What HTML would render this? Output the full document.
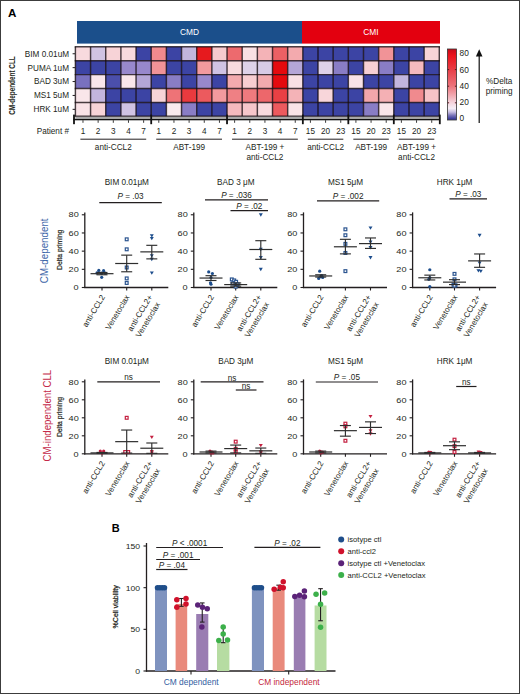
<!DOCTYPE html>
<html><head><meta charset="utf-8"><style>
html,body{margin:0;padding:0;background:#fff;}
body{width:520px;height:694px;overflow:hidden;}
svg{display:block;}
text{font-family:"Liberation Sans",sans-serif;}
</style></head><body>
<svg width="520" height="694" viewBox="0 0 520 694">
<rect x="0" y="0" width="520" height="694" fill="#fff"/>
<text x="8.10" y="17.20" font-size="11.6" text-anchor="start" fill="#000" font-weight="bold">A</text>
<rect x="77.00" y="21.00" width="225.00" height="22.60" fill="#1b4f8b"/>
<rect x="302.00" y="21.00" width="138.00" height="22.60" fill="#e3000f"/>
<text x="189.50" y="35.20" font-size="8.4" text-anchor="middle" fill="#fff">CMD</text>
<text x="371.00" y="35.20" font-size="8.4" text-anchor="middle" fill="#fff">CMI</text>
<rect x="75.40" y="46.80" width="15.16" height="13.90" fill="#f8dade"/>
<rect x="90.56" y="46.80" width="15.16" height="13.90" fill="#d0c3e3"/>
<rect x="105.73" y="46.80" width="15.16" height="13.90" fill="#f7d3d7"/>
<rect x="120.89" y="46.80" width="15.16" height="13.90" fill="#f8dade"/>
<rect x="136.05" y="46.80" width="15.16" height="13.90" fill="#3c44a4"/>
<rect x="151.21" y="46.80" width="15.16" height="13.90" fill="#f08a8e"/>
<rect x="166.38" y="46.80" width="15.16" height="13.90" fill="#3c44a4"/>
<rect x="181.54" y="46.80" width="15.16" height="13.90" fill="#c2b5dd"/>
<rect x="196.70" y="46.80" width="15.16" height="13.90" fill="#e61a1e"/>
<rect x="211.86" y="46.80" width="15.16" height="13.90" fill="#f6cace"/>
<rect x="227.03" y="46.80" width="15.16" height="13.90" fill="#ed6a6e"/>
<rect x="242.19" y="46.80" width="15.16" height="13.90" fill="#f8e0e4"/>
<rect x="257.35" y="46.80" width="15.16" height="13.90" fill="#f4b3b7"/>
<rect x="272.51" y="46.80" width="15.16" height="13.90" fill="#ec6064"/>
<rect x="287.68" y="46.80" width="15.16" height="13.90" fill="#f3aaae"/>
<rect x="302.84" y="46.80" width="15.16" height="13.90" fill="#3c44a4"/>
<rect x="318.00" y="46.80" width="15.16" height="13.90" fill="#3c44a4"/>
<rect x="333.16" y="46.80" width="15.16" height="13.90" fill="#3c44a4"/>
<rect x="348.33" y="46.80" width="15.16" height="13.90" fill="#3c44a4"/>
<rect x="363.49" y="46.80" width="15.16" height="13.90" fill="#3c44a4"/>
<rect x="378.65" y="46.80" width="15.16" height="13.90" fill="#f19397"/>
<rect x="393.81" y="46.80" width="15.16" height="13.90" fill="#3c44a4"/>
<rect x="408.98" y="46.80" width="15.16" height="13.90" fill="#3c44a4"/>
<rect x="424.14" y="46.80" width="15.16" height="13.90" fill="#f7d3d7"/>
<rect x="75.40" y="60.70" width="15.16" height="13.90" fill="#3c44a4"/>
<rect x="90.56" y="60.70" width="15.16" height="13.90" fill="#3c44a4"/>
<rect x="105.73" y="60.70" width="15.16" height="13.90" fill="#3c44a4"/>
<rect x="120.89" y="60.70" width="15.16" height="13.90" fill="#9888cc"/>
<rect x="136.05" y="60.70" width="15.16" height="13.90" fill="#9888cc"/>
<rect x="151.21" y="60.70" width="15.16" height="13.90" fill="#f19397"/>
<rect x="166.38" y="60.70" width="15.16" height="13.90" fill="#3c44a4"/>
<rect x="181.54" y="60.70" width="15.16" height="13.90" fill="#3c44a4"/>
<rect x="196.70" y="60.70" width="15.16" height="13.90" fill="#f29a9e"/>
<rect x="211.86" y="60.70" width="15.16" height="13.90" fill="#d0c3e3"/>
<rect x="227.03" y="60.70" width="15.16" height="13.90" fill="#f8dade"/>
<rect x="242.19" y="60.70" width="15.16" height="13.90" fill="#ded2e9"/>
<rect x="257.35" y="60.70" width="15.16" height="13.90" fill="#d7cbe6"/>
<rect x="272.51" y="60.70" width="15.16" height="13.90" fill="#e40a0e"/>
<rect x="287.68" y="60.70" width="15.16" height="13.90" fill="#b4a6d7"/>
<rect x="302.84" y="60.70" width="15.16" height="13.90" fill="#3c44a4"/>
<rect x="318.00" y="60.70" width="15.16" height="13.90" fill="#ded2e9"/>
<rect x="333.16" y="60.70" width="15.16" height="13.90" fill="#897dc5"/>
<rect x="348.33" y="60.70" width="15.16" height="13.90" fill="#3c44a4"/>
<rect x="363.49" y="60.70" width="15.16" height="13.90" fill="#f7d0d4"/>
<rect x="378.65" y="60.70" width="15.16" height="13.90" fill="#897dc5"/>
<rect x="393.81" y="60.70" width="15.16" height="13.90" fill="#3c44a4"/>
<rect x="408.98" y="60.70" width="15.16" height="13.90" fill="#f5babe"/>
<rect x="424.14" y="60.70" width="15.16" height="13.90" fill="#3c44a4"/>
<rect x="75.40" y="74.60" width="15.16" height="13.90" fill="#7971bf"/>
<rect x="90.56" y="74.60" width="15.16" height="13.90" fill="#f9e6ea"/>
<rect x="105.73" y="74.60" width="15.16" height="13.90" fill="#4b4fab"/>
<rect x="120.89" y="74.60" width="15.16" height="13.90" fill="#f9e6ea"/>
<rect x="136.05" y="74.60" width="15.16" height="13.90" fill="#b4a6d7"/>
<rect x="151.21" y="74.60" width="15.16" height="13.90" fill="#3c44a4"/>
<rect x="166.38" y="74.60" width="15.16" height="13.90" fill="#897dc5"/>
<rect x="181.54" y="74.60" width="15.16" height="13.90" fill="#3c44a4"/>
<rect x="196.70" y="74.60" width="15.16" height="13.90" fill="#9888cc"/>
<rect x="211.86" y="74.60" width="15.16" height="13.90" fill="#3c44a4"/>
<rect x="227.03" y="74.60" width="15.16" height="13.90" fill="#f3aaae"/>
<rect x="242.19" y="74.60" width="15.16" height="13.90" fill="#f7cdd1"/>
<rect x="257.35" y="74.60" width="15.16" height="13.90" fill="#f3aaae"/>
<rect x="272.51" y="74.60" width="15.16" height="13.90" fill="#e40a0e"/>
<rect x="287.68" y="74.60" width="15.16" height="13.90" fill="#f8e0e4"/>
<rect x="302.84" y="74.60" width="15.16" height="13.90" fill="#3c44a4"/>
<rect x="318.00" y="74.60" width="15.16" height="13.90" fill="#3c44a4"/>
<rect x="333.16" y="74.60" width="15.16" height="13.90" fill="#3c44a4"/>
<rect x="348.33" y="74.60" width="15.16" height="13.90" fill="#f9e3e7"/>
<rect x="363.49" y="74.60" width="15.16" height="13.90" fill="#3c44a4"/>
<rect x="378.65" y="74.60" width="15.16" height="13.90" fill="#3c44a4"/>
<rect x="393.81" y="74.60" width="15.16" height="13.90" fill="#c2b5dd"/>
<rect x="408.98" y="74.60" width="15.16" height="13.90" fill="#3c44a4"/>
<rect x="424.14" y="74.60" width="15.16" height="13.90" fill="#3c44a4"/>
<rect x="75.40" y="88.50" width="15.16" height="13.90" fill="#f9e6ea"/>
<rect x="90.56" y="88.50" width="15.16" height="13.90" fill="#c2b5dd"/>
<rect x="105.73" y="88.50" width="15.16" height="13.90" fill="#3c44a4"/>
<rect x="120.89" y="88.50" width="15.16" height="13.90" fill="#3c44a4"/>
<rect x="136.05" y="88.50" width="15.16" height="13.90" fill="#3c44a4"/>
<rect x="151.21" y="88.50" width="15.16" height="13.90" fill="#f7d3d7"/>
<rect x="166.38" y="88.50" width="15.16" height="13.90" fill="#ee7377"/>
<rect x="181.54" y="88.50" width="15.16" height="13.90" fill="#e93a3e"/>
<rect x="196.70" y="88.50" width="15.16" height="13.90" fill="#ec5a5e"/>
<rect x="211.86" y="88.50" width="15.16" height="13.90" fill="#f29a9e"/>
<rect x="227.03" y="88.50" width="15.16" height="13.90" fill="#ef8084"/>
<rect x="242.19" y="88.50" width="15.16" height="13.90" fill="#ef7a7e"/>
<rect x="257.35" y="88.50" width="15.16" height="13.90" fill="#ed676b"/>
<rect x="272.51" y="88.50" width="15.16" height="13.90" fill="#e94044"/>
<rect x="287.68" y="88.50" width="15.16" height="13.90" fill="#f4b3b7"/>
<rect x="302.84" y="88.50" width="15.16" height="13.90" fill="#3c44a4"/>
<rect x="318.00" y="88.50" width="15.16" height="13.90" fill="#f8d6da"/>
<rect x="333.16" y="88.50" width="15.16" height="13.90" fill="#3c44a4"/>
<rect x="348.33" y="88.50" width="15.16" height="13.90" fill="#3c44a4"/>
<rect x="363.49" y="88.50" width="15.16" height="13.90" fill="#f3a7ab"/>
<rect x="378.65" y="88.50" width="15.16" height="13.90" fill="#f4b0b4"/>
<rect x="393.81" y="88.50" width="15.16" height="13.90" fill="#3c44a4"/>
<rect x="408.98" y="88.50" width="15.16" height="13.90" fill="#f08a8e"/>
<rect x="424.14" y="88.50" width="15.16" height="13.90" fill="#f6c3c7"/>
<rect x="75.40" y="102.40" width="15.16" height="13.90" fill="#f9e3e7"/>
<rect x="90.56" y="102.40" width="15.16" height="13.90" fill="#f7d3d7"/>
<rect x="105.73" y="102.40" width="15.16" height="13.90" fill="#3c44a4"/>
<rect x="120.89" y="102.40" width="15.16" height="13.90" fill="#d0c3e3"/>
<rect x="136.05" y="102.40" width="15.16" height="13.90" fill="#3c44a4"/>
<rect x="151.21" y="102.40" width="15.16" height="13.90" fill="#3c44a4"/>
<rect x="166.38" y="102.40" width="15.16" height="13.90" fill="#f9eaee"/>
<rect x="181.54" y="102.40" width="15.16" height="13.90" fill="#897dc5"/>
<rect x="196.70" y="102.40" width="15.16" height="13.90" fill="#3c44a4"/>
<rect x="211.86" y="102.40" width="15.16" height="13.90" fill="#3c44a4"/>
<rect x="227.03" y="102.40" width="15.16" height="13.90" fill="#f5babe"/>
<rect x="242.19" y="102.40" width="15.16" height="13.90" fill="#f6c6ca"/>
<rect x="257.35" y="102.40" width="15.16" height="13.90" fill="#f8dade"/>
<rect x="272.51" y="102.40" width="15.16" height="13.90" fill="#ec5a5e"/>
<rect x="287.68" y="102.40" width="15.16" height="13.90" fill="#f9e3e7"/>
<rect x="302.84" y="102.40" width="15.16" height="13.90" fill="#3c44a4"/>
<rect x="318.00" y="102.40" width="15.16" height="13.90" fill="#3c44a4"/>
<rect x="333.16" y="102.40" width="15.16" height="13.90" fill="#3c44a4"/>
<rect x="348.33" y="102.40" width="15.16" height="13.90" fill="#3c44a4"/>
<rect x="363.49" y="102.40" width="15.16" height="13.90" fill="#897dc5"/>
<rect x="378.65" y="102.40" width="15.16" height="13.90" fill="#f9e6ea"/>
<rect x="393.81" y="102.40" width="15.16" height="13.90" fill="#3c44a4"/>
<rect x="408.98" y="102.40" width="15.16" height="13.90" fill="#3c44a4"/>
<rect x="424.14" y="102.40" width="15.16" height="13.90" fill="#3c44a4"/>
<g stroke="#140a10" stroke-opacity="0.78" stroke-width="1.45">
<line x1="74.70" y1="46.80" x2="440.00" y2="46.80"/>
<line x1="74.70" y1="60.70" x2="440.00" y2="60.70"/>
<line x1="74.70" y1="74.60" x2="440.00" y2="74.60"/>
<line x1="74.70" y1="88.50" x2="440.00" y2="88.50"/>
<line x1="74.70" y1="102.40" x2="440.00" y2="102.40"/>
<line x1="74.70" y1="116.30" x2="440.00" y2="116.30"/>
<line x1="75.40" y1="46.80" x2="75.40" y2="116.30"/>
<line x1="90.56" y1="46.80" x2="90.56" y2="116.30"/>
<line x1="105.73" y1="46.80" x2="105.73" y2="116.30"/>
<line x1="120.89" y1="46.80" x2="120.89" y2="116.30"/>
<line x1="136.05" y1="46.80" x2="136.05" y2="116.30"/>
<line x1="151.21" y1="46.80" x2="151.21" y2="116.30"/>
<line x1="166.38" y1="46.80" x2="166.38" y2="116.30"/>
<line x1="181.54" y1="46.80" x2="181.54" y2="116.30"/>
<line x1="196.70" y1="46.80" x2="196.70" y2="116.30"/>
<line x1="211.86" y1="46.80" x2="211.86" y2="116.30"/>
<line x1="227.03" y1="46.80" x2="227.03" y2="116.30"/>
<line x1="242.19" y1="46.80" x2="242.19" y2="116.30"/>
<line x1="257.35" y1="46.80" x2="257.35" y2="116.30"/>
<line x1="272.51" y1="46.80" x2="272.51" y2="116.30"/>
<line x1="287.68" y1="46.80" x2="287.68" y2="116.30"/>
<line x1="302.84" y1="46.80" x2="302.84" y2="116.30"/>
<line x1="318.00" y1="46.80" x2="318.00" y2="116.30"/>
<line x1="333.16" y1="46.80" x2="333.16" y2="116.30"/>
<line x1="348.33" y1="46.80" x2="348.33" y2="116.30"/>
<line x1="363.49" y1="46.80" x2="363.49" y2="116.30"/>
<line x1="378.65" y1="46.80" x2="378.65" y2="116.30"/>
<line x1="393.81" y1="46.80" x2="393.81" y2="116.30"/>
<line x1="408.98" y1="46.80" x2="408.98" y2="116.30"/>
<line x1="424.14" y1="46.80" x2="424.14" y2="116.30"/>
<line x1="439.30" y1="46.80" x2="439.30" y2="116.30"/>
</g>
<text x="69.00" y="56.65" font-size="8.2" text-anchor="end" fill="#231f20">BIM 0.01uM</text>
<line x1="72.60" y1="53.75" x2="75.00" y2="53.75" stroke="#231f20" stroke-width="1"/>
<text x="69.00" y="70.55" font-size="8.2" text-anchor="end" fill="#231f20">PUMA 1uM</text>
<line x1="72.60" y1="67.65" x2="75.00" y2="67.65" stroke="#231f20" stroke-width="1"/>
<text x="69.00" y="84.45" font-size="8.2" text-anchor="end" fill="#231f20">BAD 3uM</text>
<line x1="72.60" y1="81.55" x2="75.00" y2="81.55" stroke="#231f20" stroke-width="1"/>
<text x="69.00" y="98.35" font-size="8.2" text-anchor="end" fill="#231f20">MS1 5uM</text>
<line x1="72.60" y1="95.45" x2="75.00" y2="95.45" stroke="#231f20" stroke-width="1"/>
<text x="69.00" y="112.25" font-size="8.2" text-anchor="end" fill="#231f20">HRK 1uM</text>
<line x1="72.60" y1="109.35" x2="75.00" y2="109.35" stroke="#231f20" stroke-width="1"/>
<rect x="75.40" y="116.80" width="363.90" height="1.80" fill="#a8a8a8"/>
<rect x="73.40" y="118.80" width="366.40" height="1.50" fill="#111"/>
<line x1="82.98" y1="120.20" x2="82.98" y2="122.80" stroke="#222" stroke-width="0.9"/>
<line x1="98.14" y1="120.20" x2="98.14" y2="122.80" stroke="#222" stroke-width="0.9"/>
<line x1="113.31" y1="120.20" x2="113.31" y2="122.80" stroke="#222" stroke-width="0.9"/>
<line x1="128.47" y1="120.20" x2="128.47" y2="122.80" stroke="#222" stroke-width="0.9"/>
<line x1="143.63" y1="120.20" x2="143.63" y2="122.80" stroke="#222" stroke-width="0.9"/>
<line x1="158.79" y1="120.20" x2="158.79" y2="122.80" stroke="#222" stroke-width="0.9"/>
<line x1="173.96" y1="120.20" x2="173.96" y2="122.80" stroke="#222" stroke-width="0.9"/>
<line x1="189.12" y1="120.20" x2="189.12" y2="122.80" stroke="#222" stroke-width="0.9"/>
<line x1="204.28" y1="120.20" x2="204.28" y2="122.80" stroke="#222" stroke-width="0.9"/>
<line x1="219.44" y1="120.20" x2="219.44" y2="122.80" stroke="#222" stroke-width="0.9"/>
<line x1="234.61" y1="120.20" x2="234.61" y2="122.80" stroke="#222" stroke-width="0.9"/>
<line x1="249.77" y1="120.20" x2="249.77" y2="122.80" stroke="#222" stroke-width="0.9"/>
<line x1="264.93" y1="120.20" x2="264.93" y2="122.80" stroke="#222" stroke-width="0.9"/>
<line x1="280.09" y1="120.20" x2="280.09" y2="122.80" stroke="#222" stroke-width="0.9"/>
<line x1="295.26" y1="120.20" x2="295.26" y2="122.80" stroke="#222" stroke-width="0.9"/>
<line x1="310.42" y1="120.20" x2="310.42" y2="122.80" stroke="#222" stroke-width="0.9"/>
<line x1="325.58" y1="120.20" x2="325.58" y2="122.80" stroke="#222" stroke-width="0.9"/>
<line x1="340.74" y1="120.20" x2="340.74" y2="122.80" stroke="#222" stroke-width="0.9"/>
<line x1="355.91" y1="120.20" x2="355.91" y2="122.80" stroke="#222" stroke-width="0.9"/>
<line x1="371.07" y1="120.20" x2="371.07" y2="122.80" stroke="#222" stroke-width="0.9"/>
<line x1="386.23" y1="120.20" x2="386.23" y2="122.80" stroke="#222" stroke-width="0.9"/>
<line x1="401.39" y1="120.20" x2="401.39" y2="122.80" stroke="#222" stroke-width="0.9"/>
<line x1="416.56" y1="120.20" x2="416.56" y2="122.80" stroke="#222" stroke-width="0.9"/>
<line x1="431.72" y1="120.20" x2="431.72" y2="122.80" stroke="#222" stroke-width="0.9"/>
<rect x="73.10" y="114.60" width="1.80" height="9.60" fill="#111"/>
<rect x="150.31" y="114.60" width="1.80" height="9.60" fill="#111"/>
<rect x="226.12" y="114.60" width="1.80" height="9.60" fill="#111"/>
<rect x="301.94" y="114.60" width="1.80" height="9.60" fill="#111"/>
<rect x="347.43" y="114.60" width="1.80" height="9.60" fill="#111"/>
<rect x="392.91" y="114.60" width="1.80" height="9.60" fill="#111"/>
<rect x="438.90" y="114.60" width="1.80" height="9.60" fill="#111"/>
<text x="69.00" y="134.10" font-size="8.2" text-anchor="end" fill="#231f20">Patient #</text>
<text x="82.98" y="134.10" font-size="8.2" text-anchor="middle" fill="#231f20">1</text>
<text x="98.14" y="134.10" font-size="8.2" text-anchor="middle" fill="#231f20">2</text>
<text x="113.31" y="134.10" font-size="8.2" text-anchor="middle" fill="#231f20">3</text>
<text x="128.47" y="134.10" font-size="8.2" text-anchor="middle" fill="#231f20">4</text>
<text x="143.63" y="134.10" font-size="8.2" text-anchor="middle" fill="#231f20">7</text>
<text x="158.79" y="134.10" font-size="8.2" text-anchor="middle" fill="#231f20">1</text>
<text x="173.96" y="134.10" font-size="8.2" text-anchor="middle" fill="#231f20">2</text>
<text x="189.12" y="134.10" font-size="8.2" text-anchor="middle" fill="#231f20">3</text>
<text x="204.28" y="134.10" font-size="8.2" text-anchor="middle" fill="#231f20">4</text>
<text x="219.44" y="134.10" font-size="8.2" text-anchor="middle" fill="#231f20">7</text>
<text x="234.61" y="134.10" font-size="8.2" text-anchor="middle" fill="#231f20">1</text>
<text x="249.77" y="134.10" font-size="8.2" text-anchor="middle" fill="#231f20">2</text>
<text x="264.93" y="134.10" font-size="8.2" text-anchor="middle" fill="#231f20">3</text>
<text x="280.09" y="134.10" font-size="8.2" text-anchor="middle" fill="#231f20">4</text>
<text x="295.26" y="134.10" font-size="8.2" text-anchor="middle" fill="#231f20">7</text>
<text x="310.42" y="134.10" font-size="8.2" text-anchor="middle" fill="#231f20">15</text>
<text x="325.58" y="134.10" font-size="8.2" text-anchor="middle" fill="#231f20">20</text>
<text x="340.74" y="134.10" font-size="8.2" text-anchor="middle" fill="#231f20">23</text>
<text x="355.91" y="134.10" font-size="8.2" text-anchor="middle" fill="#231f20">15</text>
<text x="371.07" y="134.10" font-size="8.2" text-anchor="middle" fill="#231f20">20</text>
<text x="386.23" y="134.10" font-size="8.2" text-anchor="middle" fill="#231f20">23</text>
<text x="401.39" y="134.10" font-size="8.2" text-anchor="middle" fill="#231f20">15</text>
<text x="416.56" y="134.10" font-size="8.2" text-anchor="middle" fill="#231f20">20</text>
<text x="431.72" y="134.10" font-size="8.2" text-anchor="middle" fill="#231f20">23</text>
<line x1="80.40" y1="139.20" x2="146.21" y2="139.20" stroke="#231f20" stroke-width="1"/>
<text x="113.31" y="150.20" font-size="8.2" text-anchor="middle" fill="#231f20">anti-CCL2</text>
<line x1="156.21" y1="139.20" x2="222.03" y2="139.20" stroke="#231f20" stroke-width="1"/>
<text x="189.12" y="150.20" font-size="8.2" text-anchor="middle" fill="#231f20">ABT-199</text>
<line x1="232.03" y1="139.20" x2="297.84" y2="139.20" stroke="#231f20" stroke-width="1"/>
<text x="264.93" y="150.20" font-size="8.2" text-anchor="middle" fill="#231f20">ABT-199 +</text>
<text x="264.93" y="160.00" font-size="8.2" text-anchor="middle" fill="#231f20">anti-CCL2</text>
<line x1="307.84" y1="139.20" x2="343.33" y2="139.20" stroke="#231f20" stroke-width="1"/>
<text x="325.58" y="150.20" font-size="8.2" text-anchor="middle" fill="#231f20">anti-CCL2</text>
<line x1="353.33" y1="139.20" x2="388.81" y2="139.20" stroke="#231f20" stroke-width="1"/>
<text x="371.07" y="150.20" font-size="8.2" text-anchor="middle" fill="#231f20">ABT-199</text>
<line x1="398.81" y1="139.20" x2="434.30" y2="139.20" stroke="#231f20" stroke-width="1"/>
<text x="416.56" y="150.20" font-size="8.2" text-anchor="middle" fill="#231f20">ABT-199 +</text>
<text x="416.56" y="160.00" font-size="8.2" text-anchor="middle" fill="#231f20">anti-CCL2</text>
<defs><linearGradient id="cb" x1="0" y1="1" x2="0" y2="0">
<stop offset="0.000" stop-color="#3c3c96"/>
<stop offset="0.021" stop-color="#40409c"/>
<stop offset="0.067" stop-color="#7c76b8"/>
<stop offset="0.113" stop-color="#c8bee2"/>
<stop offset="0.164" stop-color="#f6eef6"/>
<stop offset="0.250" stop-color="#f5d2da"/>
<stop offset="0.365" stop-color="#f0a2aa"/>
<stop offset="0.480" stop-color="#ec737a"/>
<stop offset="0.710" stop-color="#e83e46"/>
<stop offset="0.905" stop-color="#ec141c"/>
<stop offset="0.962" stop-color="#d60e1a"/>
<stop offset="1.000" stop-color="#c40c18"/>
</linearGradient></defs>
<rect x="447.5" y="49.0" width="9" height="71.0" fill="url(#cb)" stroke="#333" stroke-width="0.8"/>
<line x1="447.50" y1="69.60" x2="449.10" y2="69.60" stroke="#5a1a20" stroke-width="1"/>
<line x1="454.90" y1="69.60" x2="456.50" y2="69.60" stroke="#5a1a20" stroke-width="1"/>
<line x1="447.50" y1="86.20" x2="449.10" y2="86.20" stroke="#5a1a20" stroke-width="1"/>
<line x1="454.90" y1="86.20" x2="456.50" y2="86.20" stroke="#5a1a20" stroke-width="1"/>
<line x1="447.50" y1="102.80" x2="449.10" y2="102.80" stroke="#5a1a20" stroke-width="1"/>
<line x1="454.90" y1="102.80" x2="456.50" y2="102.80" stroke="#5a1a20" stroke-width="1"/>
<text x="459.60" y="56.20" font-size="8.3" text-anchor="start" fill="#231f20">80</text>
<text x="459.60" y="72.50" font-size="8.3" text-anchor="start" fill="#231f20">60</text>
<text x="459.60" y="89.10" font-size="8.3" text-anchor="start" fill="#231f20">40</text>
<text x="459.60" y="105.20" font-size="8.3" text-anchor="start" fill="#231f20">20</text>
<text x="459.60" y="121.40" font-size="8.3" text-anchor="start" fill="#231f20">0</text>
<line x1="479.20" y1="55.00" x2="479.20" y2="123.00" stroke="#111" stroke-width="1.2"/>
<path d="M479.2 49.2 L475.9 56.4 L482.5 56.4 Z" fill="#111"/>
<text x="499.20" y="84.40" font-size="8.2" text-anchor="middle" fill="#231f20">%Delta</text>
<text x="499.20" y="94.40" font-size="8.2" text-anchor="middle" fill="#231f20">priming</text>
<text transform="translate(15.3,85.5) rotate(-90) scale(0.71,1)" font-size="9" font-weight="bold" text-anchor="middle" fill="#231f20">CM-dependent CLL</text>
<line x1="84.80" y1="288.10" x2="84.80" y2="212.38" stroke="#231f20" stroke-width="1.3"/>
<line x1="84.20" y1="287.50" x2="168.30" y2="287.50" stroke="#231f20" stroke-width="1.3"/>
<line x1="81.80" y1="287.50" x2="84.80" y2="287.50" stroke="#231f20" stroke-width="1.1"/>
<text transform="translate(78.70,290.20) scale(1.2,1)" font-size="7.6" text-anchor="end" fill="#231f20">0</text>
<line x1="81.80" y1="269.32" x2="84.80" y2="269.32" stroke="#231f20" stroke-width="1.1"/>
<text transform="translate(78.70,272.02) scale(1.2,1)" font-size="7.6" text-anchor="end" fill="#231f20">20</text>
<line x1="81.80" y1="251.14" x2="84.80" y2="251.14" stroke="#231f20" stroke-width="1.1"/>
<text transform="translate(78.70,253.84) scale(1.2,1)" font-size="7.6" text-anchor="end" fill="#231f20">40</text>
<line x1="81.80" y1="232.96" x2="84.80" y2="232.96" stroke="#231f20" stroke-width="1.1"/>
<text transform="translate(78.70,235.66) scale(1.2,1)" font-size="7.6" text-anchor="end" fill="#231f20">60</text>
<line x1="81.80" y1="214.78" x2="84.80" y2="214.78" stroke="#231f20" stroke-width="1.1"/>
<text transform="translate(78.70,217.48) scale(1.2,1)" font-size="7.6" text-anchor="end" fill="#231f20">80</text>
<line x1="102.00" y1="287.50" x2="102.00" y2="290.50" stroke="#231f20" stroke-width="1.1"/>
<line x1="126.70" y1="287.50" x2="126.70" y2="290.50" stroke="#231f20" stroke-width="1.1"/>
<line x1="151.80" y1="287.50" x2="151.80" y2="290.50" stroke="#231f20" stroke-width="1.1"/>
<text x="126.80" y="185.20" font-size="8.2" text-anchor="middle" fill="#231f20">BIM 0.01μM</text>
<circle cx="98.80" cy="270.41" r="1.6" fill="#1d4d8c"/>
<circle cx="103.60" cy="270.68" r="1.6" fill="#1d4d8c"/>
<circle cx="97.00" cy="272.96" r="1.6" fill="#1d4d8c"/>
<circle cx="101.40" cy="273.14" r="1.6" fill="#1d4d8c"/>
<circle cx="105.40" cy="273.14" r="1.6" fill="#1d4d8c"/>
<circle cx="101.70" cy="277.32" r="1.6" fill="#1d4d8c"/>
<line x1="90.50" y1="273.68" x2="113.50" y2="273.68" stroke="#2e2e2e" stroke-width="1.2"/>
<line x1="102.00" y1="272.50" x2="102.00" y2="274.77" stroke="#2e2e2e" stroke-width="1.15"/>
<line x1="96.50" y1="272.50" x2="107.50" y2="272.50" stroke="#2e2e2e" stroke-width="1.15"/>
<line x1="96.50" y1="274.77" x2="107.50" y2="274.77" stroke="#2e2e2e" stroke-width="1.15"/>
<rect x="125.30" y="237.92" width="2.8" height="2.8" fill="#fff" stroke="#2c5590" stroke-width="1.2"/>
<rect x="125.30" y="247.92" width="2.8" height="2.8" fill="#fff" stroke="#2c5590" stroke-width="1.2"/>
<rect x="125.30" y="266.10" width="2.8" height="2.8" fill="#fff" stroke="#2c5590" stroke-width="1.2"/>
<rect x="125.30" y="277.01" width="2.8" height="2.8" fill="#fff" stroke="#2c5590" stroke-width="1.2"/>
<rect x="125.30" y="281.56" width="2.8" height="2.8" fill="#fff" stroke="#2c5590" stroke-width="1.2"/>
<line x1="115.20" y1="263.50" x2="138.20" y2="263.50" stroke="#2e2e2e" stroke-width="1.2"/>
<line x1="126.70" y1="255.14" x2="126.70" y2="271.77" stroke="#2e2e2e" stroke-width="1.15"/>
<line x1="121.20" y1="255.14" x2="132.20" y2="255.14" stroke="#2e2e2e" stroke-width="1.15"/>
<line x1="121.20" y1="271.77" x2="132.20" y2="271.77" stroke="#2e2e2e" stroke-width="1.15"/>
<path d="M149.80 234.19 L153.80 234.19 L151.80 237.59 Z" fill="#1d4d8c"/>
<path d="M149.80 236.91 L153.80 236.91 L151.80 240.31 Z" fill="#1d4d8c"/>
<path d="M149.80 254.19 L153.80 254.19 L151.80 257.58 Z" fill="#1d4d8c"/>
<path d="M149.80 257.82 L153.80 257.82 L151.80 261.22 Z" fill="#1d4d8c"/>
<path d="M149.80 271.46 L153.80 271.46 L151.80 274.86 Z" fill="#1d4d8c"/>
<line x1="140.30" y1="251.87" x2="163.30" y2="251.87" stroke="#2e2e2e" stroke-width="1.2"/>
<line x1="151.80" y1="245.32" x2="151.80" y2="258.87" stroke="#2e2e2e" stroke-width="1.15"/>
<line x1="146.30" y1="245.32" x2="157.30" y2="245.32" stroke="#2e2e2e" stroke-width="1.15"/>
<line x1="146.30" y1="258.87" x2="157.30" y2="258.87" stroke="#2e2e2e" stroke-width="1.15"/>
<line x1="99.30" y1="202.60" x2="161.80" y2="202.60" stroke="#231f20" stroke-width="1.2"/>
<text x="130.55" y="198.60" font-size="8.2" text-anchor="middle" fill="#231f20"><tspan font-style="italic">P</tspan> = .03</text>
<text transform="translate(105.20,297.00) rotate(-59)" font-size="8" text-anchor="end" fill="#231f20">anti-CCL2</text>
<text transform="translate(129.90,297.00) rotate(-59)" font-size="8" text-anchor="end" fill="#231f20">Venetoclax</text>
<text transform="translate(152.80,297.00) rotate(-59)" font-size="8" text-anchor="end" fill="#231f20">anti-CCL2+</text>
<text transform="translate(152.80,297.00) rotate(-59) translate(-2.5,10.2)" font-size="8" text-anchor="end" fill="#231f20">Venetoclax</text>
<line x1="193.80" y1="288.10" x2="193.80" y2="212.38" stroke="#231f20" stroke-width="1.3"/>
<line x1="193.20" y1="287.50" x2="277.30" y2="287.50" stroke="#231f20" stroke-width="1.3"/>
<line x1="190.80" y1="287.50" x2="193.80" y2="287.50" stroke="#231f20" stroke-width="1.1"/>
<text transform="translate(187.70,290.20) scale(1.2,1)" font-size="7.6" text-anchor="end" fill="#231f20">0</text>
<line x1="190.80" y1="269.32" x2="193.80" y2="269.32" stroke="#231f20" stroke-width="1.1"/>
<text transform="translate(187.70,272.02) scale(1.2,1)" font-size="7.6" text-anchor="end" fill="#231f20">20</text>
<line x1="190.80" y1="251.14" x2="193.80" y2="251.14" stroke="#231f20" stroke-width="1.1"/>
<text transform="translate(187.70,253.84) scale(1.2,1)" font-size="7.6" text-anchor="end" fill="#231f20">40</text>
<line x1="190.80" y1="232.96" x2="193.80" y2="232.96" stroke="#231f20" stroke-width="1.1"/>
<text transform="translate(187.70,235.66) scale(1.2,1)" font-size="7.6" text-anchor="end" fill="#231f20">60</text>
<line x1="190.80" y1="214.78" x2="193.80" y2="214.78" stroke="#231f20" stroke-width="1.1"/>
<text transform="translate(187.70,217.48) scale(1.2,1)" font-size="7.6" text-anchor="end" fill="#231f20">80</text>
<line x1="211.00" y1="287.50" x2="211.00" y2="290.50" stroke="#231f20" stroke-width="1.1"/>
<line x1="235.70" y1="287.50" x2="235.70" y2="290.50" stroke="#231f20" stroke-width="1.1"/>
<line x1="260.80" y1="287.50" x2="260.80" y2="290.50" stroke="#231f20" stroke-width="1.1"/>
<text x="235.80" y="185.20" font-size="8.2" text-anchor="middle" fill="#231f20">BAD 3 μM</text>
<circle cx="208.70" cy="271.96" r="1.6" fill="#1d4d8c"/>
<circle cx="212.40" cy="273.50" r="1.6" fill="#1d4d8c"/>
<circle cx="211.00" cy="277.50" r="1.6" fill="#1d4d8c"/>
<circle cx="210.50" cy="282.77" r="1.6" fill="#1d4d8c"/>
<circle cx="211.00" cy="284.23" r="1.6" fill="#1d4d8c"/>
<line x1="199.50" y1="278.05" x2="222.50" y2="278.05" stroke="#2e2e2e" stroke-width="1.2"/>
<line x1="211.00" y1="275.68" x2="211.00" y2="280.50" stroke="#2e2e2e" stroke-width="1.15"/>
<line x1="205.50" y1="275.68" x2="216.50" y2="275.68" stroke="#2e2e2e" stroke-width="1.15"/>
<line x1="205.50" y1="280.50" x2="216.50" y2="280.50" stroke="#2e2e2e" stroke-width="1.15"/>
<rect x="230.40" y="278.01" width="2.8" height="2.8" fill="#fff" stroke="#2c5590" stroke-width="1.2"/>
<rect x="232.80" y="279.01" width="2.8" height="2.8" fill="#fff" stroke="#2c5590" stroke-width="1.2"/>
<rect x="234.70" y="280.37" width="2.8" height="2.8" fill="#fff" stroke="#2c5590" stroke-width="1.2"/>
<rect x="231.30" y="282.01" width="2.8" height="2.8" fill="#fff" stroke="#2c5590" stroke-width="1.2"/>
<rect x="235.30" y="283.83" width="2.8" height="2.8" fill="#fff" stroke="#2c5590" stroke-width="1.2"/>
<rect x="234.30" y="285.19" width="2.8" height="2.8" fill="#fff" stroke="#2c5590" stroke-width="1.2"/>
<rect x="236.30" y="282.92" width="2.8" height="2.8" fill="#fff" stroke="#2c5590" stroke-width="1.2"/>
<line x1="224.20" y1="284.59" x2="247.20" y2="284.59" stroke="#2e2e2e" stroke-width="1.2"/>
<line x1="235.70" y1="282.95" x2="235.70" y2="286.14" stroke="#2e2e2e" stroke-width="1.15"/>
<line x1="230.20" y1="282.95" x2="241.20" y2="282.95" stroke="#2e2e2e" stroke-width="1.15"/>
<line x1="230.20" y1="286.14" x2="241.20" y2="286.14" stroke="#2e2e2e" stroke-width="1.15"/>
<path d="M258.80 213.28 L262.80 213.28 L260.80 216.68 Z" fill="#1d4d8c"/>
<path d="M258.80 247.82 L262.80 247.82 L260.80 251.22 Z" fill="#1d4d8c"/>
<path d="M258.80 256.00 L262.80 256.00 L260.80 259.40 Z" fill="#1d4d8c"/>
<path d="M258.80 267.82 L262.80 267.82 L260.80 271.22 Z" fill="#1d4d8c"/>
<line x1="249.30" y1="249.50" x2="272.30" y2="249.50" stroke="#2e2e2e" stroke-width="1.2"/>
<line x1="260.80" y1="240.69" x2="260.80" y2="259.32" stroke="#2e2e2e" stroke-width="1.15"/>
<line x1="255.30" y1="240.69" x2="266.30" y2="240.69" stroke="#2e2e2e" stroke-width="1.15"/>
<line x1="255.30" y1="259.32" x2="266.30" y2="259.32" stroke="#2e2e2e" stroke-width="1.15"/>
<line x1="205.00" y1="199.80" x2="268.00" y2="199.80" stroke="#231f20" stroke-width="1.2"/>
<text x="236.50" y="198.20" font-size="8.2" text-anchor="middle" fill="#231f20"><tspan font-style="italic">P</tspan> = .036</text>
<line x1="230.50" y1="210.60" x2="268.00" y2="210.60" stroke="#231f20" stroke-width="1.2"/>
<text x="249.25" y="208.80" font-size="8.2" text-anchor="middle" fill="#231f20"><tspan font-style="italic">P</tspan> = .02</text>
<text transform="translate(214.20,297.00) rotate(-59)" font-size="8" text-anchor="end" fill="#231f20">anti-CCL2</text>
<text transform="translate(238.90,297.00) rotate(-59)" font-size="8" text-anchor="end" fill="#231f20">Venetoclax</text>
<text transform="translate(261.80,297.00) rotate(-59)" font-size="8" text-anchor="end" fill="#231f20">anti-CCL2+</text>
<text transform="translate(261.80,297.00) rotate(-59) translate(-2.5,10.2)" font-size="8" text-anchor="end" fill="#231f20">Venetoclax</text>
<line x1="303.50" y1="288.10" x2="303.50" y2="212.38" stroke="#231f20" stroke-width="1.3"/>
<line x1="302.90" y1="287.50" x2="387.00" y2="287.50" stroke="#231f20" stroke-width="1.3"/>
<line x1="300.50" y1="287.50" x2="303.50" y2="287.50" stroke="#231f20" stroke-width="1.1"/>
<text transform="translate(297.40,290.20) scale(1.2,1)" font-size="7.6" text-anchor="end" fill="#231f20">0</text>
<line x1="300.50" y1="269.32" x2="303.50" y2="269.32" stroke="#231f20" stroke-width="1.1"/>
<text transform="translate(297.40,272.02) scale(1.2,1)" font-size="7.6" text-anchor="end" fill="#231f20">20</text>
<line x1="300.50" y1="251.14" x2="303.50" y2="251.14" stroke="#231f20" stroke-width="1.1"/>
<text transform="translate(297.40,253.84) scale(1.2,1)" font-size="7.6" text-anchor="end" fill="#231f20">40</text>
<line x1="300.50" y1="232.96" x2="303.50" y2="232.96" stroke="#231f20" stroke-width="1.1"/>
<text transform="translate(297.40,235.66) scale(1.2,1)" font-size="7.6" text-anchor="end" fill="#231f20">60</text>
<line x1="300.50" y1="214.78" x2="303.50" y2="214.78" stroke="#231f20" stroke-width="1.1"/>
<text transform="translate(297.40,217.48) scale(1.2,1)" font-size="7.6" text-anchor="end" fill="#231f20">80</text>
<line x1="320.70" y1="287.50" x2="320.70" y2="290.50" stroke="#231f20" stroke-width="1.1"/>
<line x1="345.40" y1="287.50" x2="345.40" y2="290.50" stroke="#231f20" stroke-width="1.1"/>
<line x1="370.50" y1="287.50" x2="370.50" y2="290.50" stroke="#231f20" stroke-width="1.1"/>
<text x="345.50" y="185.20" font-size="8.2" text-anchor="middle" fill="#231f20">MS1 5μM</text>
<circle cx="319.70" cy="271.14" r="1.6" fill="#1d4d8c"/>
<circle cx="320.70" cy="276.59" r="1.6" fill="#1d4d8c"/>
<circle cx="322.70" cy="277.50" r="1.6" fill="#1d4d8c"/>
<circle cx="318.70" cy="278.41" r="1.6" fill="#1d4d8c"/>
<circle cx="321.70" cy="275.68" r="1.6" fill="#1d4d8c"/>
<line x1="309.20" y1="275.96" x2="332.20" y2="275.96" stroke="#2e2e2e" stroke-width="1.2"/>
<line x1="320.70" y1="274.77" x2="320.70" y2="277.05" stroke="#2e2e2e" stroke-width="1.15"/>
<line x1="315.20" y1="274.77" x2="326.20" y2="274.77" stroke="#2e2e2e" stroke-width="1.15"/>
<line x1="315.20" y1="277.05" x2="326.20" y2="277.05" stroke="#2e2e2e" stroke-width="1.15"/>
<rect x="344.00" y="227.92" width="2.8" height="2.8" fill="#fff" stroke="#2c5590" stroke-width="1.2"/>
<rect x="344.00" y="233.83" width="2.8" height="2.8" fill="#fff" stroke="#2c5590" stroke-width="1.2"/>
<rect x="344.00" y="242.47" width="2.8" height="2.8" fill="#fff" stroke="#2c5590" stroke-width="1.2"/>
<rect x="344.00" y="251.56" width="2.8" height="2.8" fill="#fff" stroke="#2c5590" stroke-width="1.2"/>
<rect x="344.00" y="269.74" width="2.8" height="2.8" fill="#fff" stroke="#2c5590" stroke-width="1.2"/>
<line x1="333.90" y1="246.78" x2="356.90" y2="246.78" stroke="#2e2e2e" stroke-width="1.2"/>
<line x1="345.40" y1="239.32" x2="345.40" y2="253.87" stroke="#2e2e2e" stroke-width="1.15"/>
<line x1="339.90" y1="239.32" x2="350.90" y2="239.32" stroke="#2e2e2e" stroke-width="1.15"/>
<line x1="339.90" y1="253.87" x2="350.90" y2="253.87" stroke="#2e2e2e" stroke-width="1.15"/>
<path d="M368.50 226.46 L372.50 226.46 L370.50 229.86 Z" fill="#1d4d8c"/>
<path d="M368.50 246.00 L372.50 246.00 L370.50 249.40 Z" fill="#1d4d8c"/>
<path d="M368.50 256.00 L372.50 256.00 L370.50 259.40 Z" fill="#1d4d8c"/>
<path d="M368.50 240.55 L372.50 240.55 L370.50 243.95 Z" fill="#1d4d8c"/>
<line x1="359.00" y1="243.60" x2="382.00" y2="243.60" stroke="#2e2e2e" stroke-width="1.2"/>
<line x1="370.50" y1="237.96" x2="370.50" y2="248.41" stroke="#2e2e2e" stroke-width="1.15"/>
<line x1="365.00" y1="237.96" x2="376.00" y2="237.96" stroke="#2e2e2e" stroke-width="1.15"/>
<line x1="365.00" y1="248.41" x2="376.00" y2="248.41" stroke="#2e2e2e" stroke-width="1.15"/>
<line x1="317.00" y1="200.80" x2="379.20" y2="200.80" stroke="#231f20" stroke-width="1.2"/>
<text x="348.10" y="198.80" font-size="8.2" text-anchor="middle" fill="#231f20"><tspan font-style="italic">P</tspan> = .002</text>
<text transform="translate(323.90,297.00) rotate(-59)" font-size="8" text-anchor="end" fill="#231f20">anti-CCL2</text>
<text transform="translate(348.60,297.00) rotate(-59)" font-size="8" text-anchor="end" fill="#231f20">Venetoclax</text>
<text transform="translate(371.50,297.00) rotate(-59)" font-size="8" text-anchor="end" fill="#231f20">anti-CCL2+</text>
<text transform="translate(371.50,297.00) rotate(-59) translate(-2.5,10.2)" font-size="8" text-anchor="end" fill="#231f20">Venetoclax</text>
<line x1="412.60" y1="288.10" x2="412.60" y2="212.38" stroke="#231f20" stroke-width="1.3"/>
<line x1="412.00" y1="287.50" x2="496.10" y2="287.50" stroke="#231f20" stroke-width="1.3"/>
<line x1="409.60" y1="287.50" x2="412.60" y2="287.50" stroke="#231f20" stroke-width="1.1"/>
<text transform="translate(406.50,290.20) scale(1.2,1)" font-size="7.6" text-anchor="end" fill="#231f20">0</text>
<line x1="409.60" y1="269.32" x2="412.60" y2="269.32" stroke="#231f20" stroke-width="1.1"/>
<text transform="translate(406.50,272.02) scale(1.2,1)" font-size="7.6" text-anchor="end" fill="#231f20">20</text>
<line x1="409.60" y1="251.14" x2="412.60" y2="251.14" stroke="#231f20" stroke-width="1.1"/>
<text transform="translate(406.50,253.84) scale(1.2,1)" font-size="7.6" text-anchor="end" fill="#231f20">40</text>
<line x1="409.60" y1="232.96" x2="412.60" y2="232.96" stroke="#231f20" stroke-width="1.1"/>
<text transform="translate(406.50,235.66) scale(1.2,1)" font-size="7.6" text-anchor="end" fill="#231f20">60</text>
<line x1="409.60" y1="214.78" x2="412.60" y2="214.78" stroke="#231f20" stroke-width="1.1"/>
<text transform="translate(406.50,217.48) scale(1.2,1)" font-size="7.6" text-anchor="end" fill="#231f20">80</text>
<line x1="429.80" y1="287.50" x2="429.80" y2="290.50" stroke="#231f20" stroke-width="1.1"/>
<line x1="454.50" y1="287.50" x2="454.50" y2="290.50" stroke="#231f20" stroke-width="1.1"/>
<line x1="479.60" y1="287.50" x2="479.60" y2="290.50" stroke="#231f20" stroke-width="1.1"/>
<text x="454.60" y="185.20" font-size="8.2" text-anchor="middle" fill="#231f20">HRK 1μM</text>
<circle cx="429.80" cy="269.77" r="1.6" fill="#1d4d8c"/>
<circle cx="429.80" cy="277.50" r="1.6" fill="#1d4d8c"/>
<circle cx="428.80" cy="279.32" r="1.6" fill="#1d4d8c"/>
<circle cx="429.80" cy="286.59" r="1.6" fill="#1d4d8c"/>
<line x1="418.30" y1="277.77" x2="441.30" y2="277.77" stroke="#2e2e2e" stroke-width="1.2"/>
<line x1="429.80" y1="275.14" x2="429.80" y2="279.96" stroke="#2e2e2e" stroke-width="1.15"/>
<line x1="424.30" y1="275.14" x2="435.30" y2="275.14" stroke="#2e2e2e" stroke-width="1.15"/>
<line x1="424.30" y1="279.96" x2="435.30" y2="279.96" stroke="#2e2e2e" stroke-width="1.15"/>
<rect x="453.10" y="272.47" width="2.8" height="2.8" fill="#fff" stroke="#2c5590" stroke-width="1.2"/>
<rect x="453.10" y="277.92" width="2.8" height="2.8" fill="#fff" stroke="#2c5590" stroke-width="1.2"/>
<rect x="452.10" y="283.37" width="2.8" height="2.8" fill="#fff" stroke="#2c5590" stroke-width="1.2"/>
<rect x="454.10" y="283.83" width="2.8" height="2.8" fill="#fff" stroke="#2c5590" stroke-width="1.2"/>
<rect x="453.10" y="284.28" width="2.8" height="2.8" fill="#fff" stroke="#2c5590" stroke-width="1.2"/>
<line x1="443.00" y1="282.14" x2="466.00" y2="282.14" stroke="#2e2e2e" stroke-width="1.2"/>
<line x1="454.50" y1="279.68" x2="454.50" y2="284.59" stroke="#2e2e2e" stroke-width="1.15"/>
<line x1="449.00" y1="279.68" x2="460.00" y2="279.68" stroke="#2e2e2e" stroke-width="1.15"/>
<line x1="449.00" y1="284.59" x2="460.00" y2="284.59" stroke="#2e2e2e" stroke-width="1.15"/>
<path d="M477.60 233.73 L481.60 233.73 L479.60 237.13 Z" fill="#1d4d8c"/>
<path d="M477.60 261.46 L481.60 261.46 L479.60 264.86 Z" fill="#1d4d8c"/>
<path d="M476.40 269.18 L480.40 269.18 L478.40 272.58 Z" fill="#1d4d8c"/>
<path d="M478.80 269.64 L482.80 269.64 L480.80 273.04 Z" fill="#1d4d8c"/>
<line x1="468.10" y1="260.87" x2="491.10" y2="260.87" stroke="#2e2e2e" stroke-width="1.2"/>
<line x1="479.60" y1="253.96" x2="479.60" y2="267.32" stroke="#2e2e2e" stroke-width="1.15"/>
<line x1="474.10" y1="253.96" x2="485.10" y2="253.96" stroke="#2e2e2e" stroke-width="1.15"/>
<line x1="474.10" y1="267.32" x2="485.10" y2="267.32" stroke="#2e2e2e" stroke-width="1.15"/>
<line x1="449.50" y1="198.80" x2="487.00" y2="198.80" stroke="#231f20" stroke-width="1.2"/>
<text x="468.25" y="196.80" font-size="8.2" text-anchor="middle" fill="#231f20"><tspan font-style="italic">P</tspan> = .03</text>
<text transform="translate(433.00,297.00) rotate(-59)" font-size="8" text-anchor="end" fill="#231f20">anti-CCL2</text>
<text transform="translate(457.70,297.00) rotate(-59)" font-size="8" text-anchor="end" fill="#231f20">Venetoclax</text>
<text transform="translate(480.60,297.00) rotate(-59)" font-size="8" text-anchor="end" fill="#231f20">anti-CCL2+</text>
<text transform="translate(480.60,297.00) rotate(-59) translate(-2.5,10.2)" font-size="8" text-anchor="end" fill="#231f20">Venetoclax</text>
<line x1="84.80" y1="454.40" x2="84.80" y2="379.40" stroke="#231f20" stroke-width="1.3"/>
<line x1="84.20" y1="453.80" x2="168.30" y2="453.80" stroke="#231f20" stroke-width="1.3"/>
<line x1="81.80" y1="453.80" x2="84.80" y2="453.80" stroke="#231f20" stroke-width="1.1"/>
<text transform="translate(78.70,456.50) scale(1.2,1)" font-size="7.6" text-anchor="end" fill="#231f20">0</text>
<line x1="81.80" y1="435.80" x2="84.80" y2="435.80" stroke="#231f20" stroke-width="1.1"/>
<text transform="translate(78.70,438.50) scale(1.2,1)" font-size="7.6" text-anchor="end" fill="#231f20">20</text>
<line x1="81.80" y1="417.80" x2="84.80" y2="417.80" stroke="#231f20" stroke-width="1.1"/>
<text transform="translate(78.70,420.50) scale(1.2,1)" font-size="7.6" text-anchor="end" fill="#231f20">40</text>
<line x1="81.80" y1="399.80" x2="84.80" y2="399.80" stroke="#231f20" stroke-width="1.1"/>
<text transform="translate(78.70,402.50) scale(1.2,1)" font-size="7.6" text-anchor="end" fill="#231f20">60</text>
<line x1="81.80" y1="381.80" x2="84.80" y2="381.80" stroke="#231f20" stroke-width="1.1"/>
<text transform="translate(78.70,384.50) scale(1.2,1)" font-size="7.6" text-anchor="end" fill="#231f20">80</text>
<line x1="102.00" y1="453.80" x2="102.00" y2="456.80" stroke="#231f20" stroke-width="1.1"/>
<line x1="126.70" y1="453.80" x2="126.70" y2="456.80" stroke="#231f20" stroke-width="1.1"/>
<line x1="151.80" y1="453.80" x2="151.80" y2="456.80" stroke="#231f20" stroke-width="1.1"/>
<text x="126.80" y="364.00" font-size="8.2" text-anchor="middle" fill="#231f20">BIM 0.01μM</text>
<circle cx="100.30" cy="451.10" r="1.6" fill="#c42040"/>
<circle cx="103.70" cy="451.10" r="1.6" fill="#c42040"/>
<circle cx="102.00" cy="452.90" r="1.6" fill="#c42040"/>
<line x1="90.50" y1="452.90" x2="113.50" y2="452.90" stroke="#2e2e2e" stroke-width="1.2"/>
<line x1="102.00" y1="452.45" x2="102.00" y2="453.35" stroke="#2e2e2e" stroke-width="1.15"/>
<line x1="96.50" y1="452.45" x2="107.50" y2="452.45" stroke="#2e2e2e" stroke-width="1.15"/>
<line x1="96.50" y1="453.35" x2="107.50" y2="453.35" stroke="#2e2e2e" stroke-width="1.15"/>
<rect x="125.30" y="416.40" width="2.8" height="2.8" fill="#fff" stroke="#c42040" stroke-width="1.2"/>
<rect x="123.80" y="450.60" width="2.8" height="2.8" fill="#fff" stroke="#c42040" stroke-width="1.2"/>
<rect x="126.80" y="450.60" width="2.8" height="2.8" fill="#fff" stroke="#c42040" stroke-width="1.2"/>
<line x1="115.20" y1="441.65" x2="138.20" y2="441.65" stroke="#2e2e2e" stroke-width="1.2"/>
<line x1="126.70" y1="430.04" x2="126.70" y2="453.08" stroke="#2e2e2e" stroke-width="1.15"/>
<line x1="121.20" y1="430.04" x2="132.20" y2="430.04" stroke="#2e2e2e" stroke-width="1.15"/>
<line x1="121.20" y1="453.08" x2="132.20" y2="453.08" stroke="#2e2e2e" stroke-width="1.15"/>
<path d="M149.80 435.65 L153.80 435.65 L151.80 439.05 Z" fill="#c42040"/>
<path d="M149.80 450.05 L153.80 450.05 L151.80 453.45 Z" fill="#c42040"/>
<path d="M149.80 451.40 L153.80 451.40 L151.80 454.80 Z" fill="#c42040"/>
<line x1="140.30" y1="448.22" x2="163.30" y2="448.22" stroke="#2e2e2e" stroke-width="1.2"/>
<line x1="151.80" y1="443.00" x2="151.80" y2="453.35" stroke="#2e2e2e" stroke-width="1.15"/>
<line x1="146.30" y1="443.00" x2="157.30" y2="443.00" stroke="#2e2e2e" stroke-width="1.15"/>
<line x1="146.30" y1="453.35" x2="157.30" y2="453.35" stroke="#2e2e2e" stroke-width="1.15"/>
<line x1="97.30" y1="381.80" x2="160.00" y2="381.80" stroke="#231f20" stroke-width="1.2"/>
<text x="128.65" y="380.30" font-size="8.2" text-anchor="middle" fill="#231f20">ns</text>
<text transform="translate(105.20,463.30) rotate(-59)" font-size="8" text-anchor="end" fill="#231f20">anti-CCL2</text>
<text transform="translate(129.90,463.30) rotate(-59)" font-size="8" text-anchor="end" fill="#231f20">Venetoclax</text>
<text transform="translate(152.80,463.30) rotate(-59)" font-size="8" text-anchor="end" fill="#231f20">anti-CCL2+</text>
<text transform="translate(152.80,463.30) rotate(-59) translate(-2.5,10.2)" font-size="8" text-anchor="end" fill="#231f20">Venetoclax</text>
<line x1="193.80" y1="454.40" x2="193.80" y2="379.40" stroke="#231f20" stroke-width="1.3"/>
<line x1="193.20" y1="453.80" x2="277.30" y2="453.80" stroke="#231f20" stroke-width="1.3"/>
<line x1="190.80" y1="453.80" x2="193.80" y2="453.80" stroke="#231f20" stroke-width="1.1"/>
<text transform="translate(187.70,456.50) scale(1.2,1)" font-size="7.6" text-anchor="end" fill="#231f20">0</text>
<line x1="190.80" y1="435.80" x2="193.80" y2="435.80" stroke="#231f20" stroke-width="1.1"/>
<text transform="translate(187.70,438.50) scale(1.2,1)" font-size="7.6" text-anchor="end" fill="#231f20">20</text>
<line x1="190.80" y1="417.80" x2="193.80" y2="417.80" stroke="#231f20" stroke-width="1.1"/>
<text transform="translate(187.70,420.50) scale(1.2,1)" font-size="7.6" text-anchor="end" fill="#231f20">40</text>
<line x1="190.80" y1="399.80" x2="193.80" y2="399.80" stroke="#231f20" stroke-width="1.1"/>
<text transform="translate(187.70,402.50) scale(1.2,1)" font-size="7.6" text-anchor="end" fill="#231f20">60</text>
<line x1="190.80" y1="381.80" x2="193.80" y2="381.80" stroke="#231f20" stroke-width="1.1"/>
<text transform="translate(187.70,384.50) scale(1.2,1)" font-size="7.6" text-anchor="end" fill="#231f20">80</text>
<line x1="211.00" y1="453.80" x2="211.00" y2="456.80" stroke="#231f20" stroke-width="1.1"/>
<line x1="235.70" y1="453.80" x2="235.70" y2="456.80" stroke="#231f20" stroke-width="1.1"/>
<line x1="260.80" y1="453.80" x2="260.80" y2="456.80" stroke="#231f20" stroke-width="1.1"/>
<text x="235.80" y="364.00" font-size="8.2" text-anchor="middle" fill="#231f20">BAD 3μM</text>
<circle cx="210.00" cy="451.10" r="1.6" fill="#c42040"/>
<circle cx="212.00" cy="452.00" r="1.6" fill="#c42040"/>
<circle cx="211.00" cy="452.90" r="1.6" fill="#c42040"/>
<circle cx="213.00" cy="452.90" r="1.6" fill="#c42040"/>
<line x1="199.50" y1="452.00" x2="222.50" y2="452.00" stroke="#2e2e2e" stroke-width="1.2"/>
<line x1="211.00" y1="451.10" x2="211.00" y2="452.90" stroke="#2e2e2e" stroke-width="1.15"/>
<line x1="205.50" y1="451.10" x2="216.50" y2="451.10" stroke="#2e2e2e" stroke-width="1.15"/>
<line x1="205.50" y1="452.90" x2="216.50" y2="452.90" stroke="#2e2e2e" stroke-width="1.15"/>
<rect x="234.30" y="440.25" width="2.8" height="2.8" fill="#fff" stroke="#c42040" stroke-width="1.2"/>
<rect x="234.30" y="447.45" width="2.8" height="2.8" fill="#fff" stroke="#c42040" stroke-width="1.2"/>
<rect x="234.30" y="450.60" width="2.8" height="2.8" fill="#fff" stroke="#c42040" stroke-width="1.2"/>
<line x1="224.20" y1="448.58" x2="247.20" y2="448.58" stroke="#2e2e2e" stroke-width="1.2"/>
<line x1="235.70" y1="445.07" x2="235.70" y2="452.90" stroke="#2e2e2e" stroke-width="1.15"/>
<line x1="230.20" y1="445.07" x2="241.20" y2="445.07" stroke="#2e2e2e" stroke-width="1.15"/>
<line x1="230.20" y1="452.90" x2="241.20" y2="452.90" stroke="#2e2e2e" stroke-width="1.15"/>
<path d="M258.80 443.93 L262.80 443.93 L260.80 447.33 Z" fill="#c42040"/>
<path d="M258.80 450.32 L262.80 450.32 L260.80 453.72 Z" fill="#c42040"/>
<path d="M258.80 451.40 L262.80 451.40 L260.80 454.80 Z" fill="#c42040"/>
<line x1="249.30" y1="450.83" x2="272.30" y2="450.83" stroke="#2e2e2e" stroke-width="1.2"/>
<line x1="260.80" y1="448.04" x2="260.80" y2="453.35" stroke="#2e2e2e" stroke-width="1.15"/>
<line x1="255.30" y1="448.04" x2="266.30" y2="448.04" stroke="#2e2e2e" stroke-width="1.15"/>
<line x1="255.30" y1="453.35" x2="266.30" y2="453.35" stroke="#2e2e2e" stroke-width="1.15"/>
<line x1="200.70" y1="381.90" x2="263.50" y2="381.90" stroke="#231f20" stroke-width="1.2"/>
<text x="232.10" y="380.90" font-size="8.2" text-anchor="middle" fill="#231f20">ns</text>
<line x1="235.80" y1="390.00" x2="256.50" y2="390.00" stroke="#231f20" stroke-width="1.2"/>
<text x="246.15" y="388.90" font-size="8.2" text-anchor="middle" fill="#231f20">ns</text>
<text transform="translate(214.20,463.30) rotate(-59)" font-size="8" text-anchor="end" fill="#231f20">anti-CCL2</text>
<text transform="translate(238.90,463.30) rotate(-59)" font-size="8" text-anchor="end" fill="#231f20">Venetoclax</text>
<text transform="translate(261.80,463.30) rotate(-59)" font-size="8" text-anchor="end" fill="#231f20">anti-CCL2+</text>
<text transform="translate(261.80,463.30) rotate(-59) translate(-2.5,10.2)" font-size="8" text-anchor="end" fill="#231f20">Venetoclax</text>
<line x1="303.50" y1="454.40" x2="303.50" y2="379.40" stroke="#231f20" stroke-width="1.3"/>
<line x1="302.90" y1="453.80" x2="387.00" y2="453.80" stroke="#231f20" stroke-width="1.3"/>
<line x1="300.50" y1="453.80" x2="303.50" y2="453.80" stroke="#231f20" stroke-width="1.1"/>
<text transform="translate(297.40,456.50) scale(1.2,1)" font-size="7.6" text-anchor="end" fill="#231f20">0</text>
<line x1="300.50" y1="435.80" x2="303.50" y2="435.80" stroke="#231f20" stroke-width="1.1"/>
<text transform="translate(297.40,438.50) scale(1.2,1)" font-size="7.6" text-anchor="end" fill="#231f20">20</text>
<line x1="300.50" y1="417.80" x2="303.50" y2="417.80" stroke="#231f20" stroke-width="1.1"/>
<text transform="translate(297.40,420.50) scale(1.2,1)" font-size="7.6" text-anchor="end" fill="#231f20">40</text>
<line x1="300.50" y1="399.80" x2="303.50" y2="399.80" stroke="#231f20" stroke-width="1.1"/>
<text transform="translate(297.40,402.50) scale(1.2,1)" font-size="7.6" text-anchor="end" fill="#231f20">60</text>
<line x1="300.50" y1="381.80" x2="303.50" y2="381.80" stroke="#231f20" stroke-width="1.1"/>
<text transform="translate(297.40,384.50) scale(1.2,1)" font-size="7.6" text-anchor="end" fill="#231f20">80</text>
<line x1="320.70" y1="453.80" x2="320.70" y2="456.80" stroke="#231f20" stroke-width="1.1"/>
<line x1="345.40" y1="453.80" x2="345.40" y2="456.80" stroke="#231f20" stroke-width="1.1"/>
<line x1="370.50" y1="453.80" x2="370.50" y2="456.80" stroke="#231f20" stroke-width="1.1"/>
<text x="345.50" y="364.00" font-size="8.2" text-anchor="middle" fill="#231f20">MS1 5μM</text>
<circle cx="319.70" cy="451.10" r="1.6" fill="#c42040"/>
<circle cx="321.70" cy="452.00" r="1.6" fill="#c42040"/>
<circle cx="320.70" cy="452.90" r="1.6" fill="#c42040"/>
<circle cx="322.70" cy="452.45" r="1.6" fill="#c42040"/>
<line x1="309.20" y1="452.00" x2="332.20" y2="452.00" stroke="#2e2e2e" stroke-width="1.2"/>
<line x1="320.70" y1="451.10" x2="320.70" y2="452.90" stroke="#2e2e2e" stroke-width="1.15"/>
<line x1="315.20" y1="451.10" x2="326.20" y2="451.10" stroke="#2e2e2e" stroke-width="1.15"/>
<line x1="315.20" y1="452.90" x2="326.20" y2="452.90" stroke="#2e2e2e" stroke-width="1.15"/>
<rect x="344.00" y="422.25" width="2.8" height="2.8" fill="#fff" stroke="#c42040" stroke-width="1.2"/>
<rect x="344.00" y="424.95" width="2.8" height="2.8" fill="#fff" stroke="#c42040" stroke-width="1.2"/>
<rect x="344.00" y="439.35" width="2.8" height="2.8" fill="#fff" stroke="#c42040" stroke-width="1.2"/>
<line x1="333.90" y1="430.67" x2="356.90" y2="430.67" stroke="#2e2e2e" stroke-width="1.2"/>
<line x1="345.40" y1="425.54" x2="345.40" y2="436.16" stroke="#2e2e2e" stroke-width="1.15"/>
<line x1="339.90" y1="425.54" x2="350.90" y2="425.54" stroke="#2e2e2e" stroke-width="1.15"/>
<line x1="339.90" y1="436.16" x2="350.90" y2="436.16" stroke="#2e2e2e" stroke-width="1.15"/>
<path d="M368.50 414.95 L372.50 414.95 L370.50 418.35 Z" fill="#c42040"/>
<path d="M368.50 429.26 L372.50 429.26 L370.50 432.66 Z" fill="#c42040"/>
<path d="M368.50 432.23 L372.50 432.23 L370.50 435.63 Z" fill="#c42040"/>
<line x1="359.00" y1="427.43" x2="382.00" y2="427.43" stroke="#2e2e2e" stroke-width="1.2"/>
<line x1="370.50" y1="421.85" x2="370.50" y2="433.55" stroke="#2e2e2e" stroke-width="1.15"/>
<line x1="365.00" y1="421.85" x2="376.00" y2="421.85" stroke="#2e2e2e" stroke-width="1.15"/>
<line x1="365.00" y1="433.55" x2="376.00" y2="433.55" stroke="#2e2e2e" stroke-width="1.15"/>
<line x1="315.80" y1="382.00" x2="378.00" y2="382.00" stroke="#231f20" stroke-width="1.2"/>
<text x="346.90" y="379.70" font-size="8.2" text-anchor="middle" fill="#231f20"><tspan font-style="italic">P</tspan> = .05</text>
<text transform="translate(323.90,463.30) rotate(-59)" font-size="8" text-anchor="end" fill="#231f20">anti-CCL2</text>
<text transform="translate(348.60,463.30) rotate(-59)" font-size="8" text-anchor="end" fill="#231f20">Venetoclax</text>
<text transform="translate(371.50,463.30) rotate(-59)" font-size="8" text-anchor="end" fill="#231f20">anti-CCL2+</text>
<text transform="translate(371.50,463.30) rotate(-59) translate(-2.5,10.2)" font-size="8" text-anchor="end" fill="#231f20">Venetoclax</text>
<line x1="412.60" y1="454.40" x2="412.60" y2="379.40" stroke="#231f20" stroke-width="1.3"/>
<line x1="412.00" y1="453.80" x2="496.10" y2="453.80" stroke="#231f20" stroke-width="1.3"/>
<line x1="409.60" y1="453.80" x2="412.60" y2="453.80" stroke="#231f20" stroke-width="1.1"/>
<text transform="translate(406.50,456.50) scale(1.2,1)" font-size="7.6" text-anchor="end" fill="#231f20">0</text>
<line x1="409.60" y1="435.80" x2="412.60" y2="435.80" stroke="#231f20" stroke-width="1.1"/>
<text transform="translate(406.50,438.50) scale(1.2,1)" font-size="7.6" text-anchor="end" fill="#231f20">20</text>
<line x1="409.60" y1="417.80" x2="412.60" y2="417.80" stroke="#231f20" stroke-width="1.1"/>
<text transform="translate(406.50,420.50) scale(1.2,1)" font-size="7.6" text-anchor="end" fill="#231f20">40</text>
<line x1="409.60" y1="399.80" x2="412.60" y2="399.80" stroke="#231f20" stroke-width="1.1"/>
<text transform="translate(406.50,402.50) scale(1.2,1)" font-size="7.6" text-anchor="end" fill="#231f20">60</text>
<line x1="409.60" y1="381.80" x2="412.60" y2="381.80" stroke="#231f20" stroke-width="1.1"/>
<text transform="translate(406.50,384.50) scale(1.2,1)" font-size="7.6" text-anchor="end" fill="#231f20">80</text>
<line x1="429.80" y1="453.80" x2="429.80" y2="456.80" stroke="#231f20" stroke-width="1.1"/>
<line x1="454.50" y1="453.80" x2="454.50" y2="456.80" stroke="#231f20" stroke-width="1.1"/>
<line x1="479.60" y1="453.80" x2="479.60" y2="456.80" stroke="#231f20" stroke-width="1.1"/>
<text x="454.60" y="364.00" font-size="8.2" text-anchor="middle" fill="#231f20">HRK 1μM</text>
<circle cx="428.80" cy="452.00" r="1.6" fill="#c42040"/>
<circle cx="430.80" cy="452.45" r="1.6" fill="#c42040"/>
<circle cx="429.80" cy="452.90" r="1.6" fill="#c42040"/>
<line x1="418.30" y1="452.90" x2="441.30" y2="452.90" stroke="#2e2e2e" stroke-width="1.2"/>
<line x1="429.80" y1="452.45" x2="429.80" y2="453.35" stroke="#2e2e2e" stroke-width="1.15"/>
<line x1="424.30" y1="452.45" x2="435.30" y2="452.45" stroke="#2e2e2e" stroke-width="1.15"/>
<line x1="424.30" y1="453.35" x2="435.30" y2="453.35" stroke="#2e2e2e" stroke-width="1.15"/>
<rect x="453.10" y="438.27" width="2.8" height="2.8" fill="#fff" stroke="#c42040" stroke-width="1.2"/>
<rect x="453.10" y="444.75" width="2.8" height="2.8" fill="#fff" stroke="#c42040" stroke-width="1.2"/>
<rect x="453.10" y="450.60" width="2.8" height="2.8" fill="#fff" stroke="#c42040" stroke-width="1.2"/>
<line x1="443.00" y1="445.70" x2="466.00" y2="445.70" stroke="#2e2e2e" stroke-width="1.2"/>
<line x1="454.50" y1="441.83" x2="454.50" y2="449.66" stroke="#2e2e2e" stroke-width="1.15"/>
<line x1="449.00" y1="441.83" x2="460.00" y2="441.83" stroke="#2e2e2e" stroke-width="1.15"/>
<line x1="449.00" y1="449.66" x2="460.00" y2="449.66" stroke="#2e2e2e" stroke-width="1.15"/>
<path d="M476.60 450.50 L480.60 450.50 L478.60 453.90 Z" fill="#c42040"/>
<path d="M478.60 450.95 L482.60 450.95 L480.60 454.35 Z" fill="#c42040"/>
<path d="M477.60 451.40 L481.60 451.40 L479.60 454.80 Z" fill="#c42040"/>
<line x1="468.10" y1="452.90" x2="491.10" y2="452.90" stroke="#2e2e2e" stroke-width="1.2"/>
<line x1="479.60" y1="452.45" x2="479.60" y2="453.35" stroke="#2e2e2e" stroke-width="1.15"/>
<line x1="474.10" y1="452.45" x2="485.10" y2="452.45" stroke="#2e2e2e" stroke-width="1.15"/>
<line x1="474.10" y1="453.35" x2="485.10" y2="453.35" stroke="#2e2e2e" stroke-width="1.15"/>
<line x1="456.20" y1="386.50" x2="476.50" y2="386.50" stroke="#231f20" stroke-width="1.2"/>
<text x="466.35" y="385.00" font-size="8.2" text-anchor="middle" fill="#231f20">ns</text>
<text transform="translate(433.00,463.30) rotate(-59)" font-size="8" text-anchor="end" fill="#231f20">anti-CCL2</text>
<text transform="translate(457.70,463.30) rotate(-59)" font-size="8" text-anchor="end" fill="#231f20">Venetoclax</text>
<text transform="translate(480.60,463.30) rotate(-59)" font-size="8" text-anchor="end" fill="#231f20">anti-CCL2+</text>
<text transform="translate(480.60,463.30) rotate(-59) translate(-2.5,10.2)" font-size="8" text-anchor="end" fill="#231f20">Venetoclax</text>
<text transform="translate(48.3,250.8) rotate(-90) scale(0.98,1)" font-size="10" text-anchor="middle" fill="#3d66a8">CM-dependent</text>
<text transform="translate(50.6,415.6) rotate(-90) scale(0.965,1)" font-size="10" text-anchor="middle" fill="#c42a48">CM-independent CLL</text>
<text transform="translate(62.2,249.8) rotate(-90) scale(0.9,1)" font-size="7.6" text-anchor="middle" fill="#231f20" stroke="#231f20" stroke-width="0.22">Delta priming</text>
<text transform="translate(62.2,417) rotate(-90) scale(0.9,1)" font-size="7.6" text-anchor="middle" fill="#231f20" stroke="#231f20" stroke-width="0.22">Delta priming</text>
<text x="111.70" y="532.20" font-size="11" text-anchor="start" fill="#000" font-weight="bold">B</text>
<line x1="146.50" y1="671.60" x2="146.50" y2="543.00" stroke="#231f20" stroke-width="1.3"/>
<line x1="145.90" y1="671.00" x2="335.50" y2="671.00" stroke="#231f20" stroke-width="1.3"/>
<line x1="143.50" y1="671.00" x2="146.50" y2="671.00" stroke="#231f20" stroke-width="1.1"/>
<text transform="translate(140.10,673.90) scale(1.08,1)" font-size="8" text-anchor="end" fill="#231f20">0</text>
<line x1="143.50" y1="629.34" x2="146.50" y2="629.34" stroke="#231f20" stroke-width="1.1"/>
<text transform="translate(140.10,632.24) scale(1.08,1)" font-size="8" text-anchor="end" fill="#231f20">50</text>
<line x1="143.50" y1="587.67" x2="146.50" y2="587.67" stroke="#231f20" stroke-width="1.1"/>
<text transform="translate(140.10,590.57) scale(1.08,1)" font-size="8" text-anchor="end" fill="#231f20">100</text>
<line x1="143.50" y1="546.00" x2="146.50" y2="546.00" stroke="#231f20" stroke-width="1.1"/>
<text transform="translate(140.10,548.90) scale(1.08,1)" font-size="8" text-anchor="end" fill="#231f20">150</text>
<line x1="191.00" y1="671.00" x2="191.00" y2="674.50" stroke="#231f20" stroke-width="1.1"/>
<line x1="288.70" y1="671.00" x2="288.70" y2="674.50" stroke="#231f20" stroke-width="1.1"/>
<text transform="translate(118.0,606.8) rotate(-90)" font-size="7" text-anchor="middle" fill="#231f20" stroke="#231f20" stroke-width="0.25">%Cell viability</text>
<rect x="155.00" y="587.67" width="12.00" height="83.33" fill="#7f93bf"/>
<circle cx="157.50" cy="587.67" r="2.75" fill="#1f4e8a"/>
<circle cx="159.80" cy="587.67" r="2.75" fill="#1f4e8a"/>
<circle cx="162.20" cy="587.67" r="2.75" fill="#1f4e8a"/>
<circle cx="164.50" cy="587.67" r="2.75" fill="#1f4e8a"/>
<rect x="175.60" y="603.92" width="11.60" height="67.08" fill="#e98a7c"/>
<line x1="181.40" y1="598.50" x2="181.40" y2="606.34" stroke="#231f20" stroke-width="1.1"/>
<line x1="179.10" y1="598.50" x2="183.70" y2="598.50" stroke="#231f20" stroke-width="1.1"/>
<line x1="179.10" y1="606.34" x2="183.70" y2="606.34" stroke="#231f20" stroke-width="1.1"/>
<circle cx="176.80" cy="599.67" r="2.75" fill="#d0112b"/>
<circle cx="186.00" cy="598.42" r="2.75" fill="#d0112b"/>
<circle cx="186.00" cy="604.09" r="2.75" fill="#d0112b"/>
<circle cx="176.80" cy="607.34" r="2.75" fill="#d0112b"/>
<rect x="196.20" y="614.00" width="12.10" height="57.00" fill="#9a7db2"/>
<line x1="202.25" y1="602.92" x2="202.25" y2="622.09" stroke="#231f20" stroke-width="1.1"/>
<line x1="199.95" y1="602.92" x2="204.55" y2="602.92" stroke="#231f20" stroke-width="1.1"/>
<line x1="199.95" y1="622.09" x2="204.55" y2="622.09" stroke="#231f20" stroke-width="1.1"/>
<circle cx="197.75" cy="604.92" r="2.75" fill="#5b2378"/>
<circle cx="202.45" cy="607.34" r="2.75" fill="#5b2378"/>
<circle cx="207.25" cy="608.84" r="2.75" fill="#5b2378"/>
<circle cx="201.85" cy="627.09" r="2.75" fill="#5b2378"/>
<rect x="217.00" y="642.33" width="12.40" height="28.67" fill="#b6dca2"/>
<line x1="223.20" y1="627.67" x2="223.20" y2="642.67" stroke="#231f20" stroke-width="1.1"/>
<line x1="220.90" y1="627.67" x2="225.50" y2="627.67" stroke="#231f20" stroke-width="1.1"/>
<line x1="220.90" y1="642.67" x2="225.50" y2="642.67" stroke="#231f20" stroke-width="1.1"/>
<circle cx="223.20" cy="627.09" r="2.75" fill="#3cb04a"/>
<circle cx="223.20" cy="634.08" r="2.75" fill="#3cb04a"/>
<circle cx="218.80" cy="640.50" r="2.75" fill="#3cb04a"/>
<circle cx="227.50" cy="639.92" r="2.75" fill="#3cb04a"/>
<rect x="251.90" y="587.67" width="12.10" height="83.33" fill="#7f93bf"/>
<circle cx="254.45" cy="587.67" r="2.75" fill="#1f4e8a"/>
<circle cx="256.75" cy="587.67" r="2.75" fill="#1f4e8a"/>
<circle cx="259.15" cy="587.67" r="2.75" fill="#1f4e8a"/>
<circle cx="261.45" cy="587.67" r="2.75" fill="#1f4e8a"/>
<rect x="272.70" y="587.84" width="11.90" height="83.16" fill="#e98a7c"/>
<line x1="278.65" y1="585.17" x2="278.65" y2="590.17" stroke="#231f20" stroke-width="1.1"/>
<line x1="276.35" y1="585.17" x2="280.95" y2="585.17" stroke="#231f20" stroke-width="1.1"/>
<line x1="276.35" y1="590.17" x2="280.95" y2="590.17" stroke="#231f20" stroke-width="1.1"/>
<circle cx="274.15" cy="589.34" r="2.75" fill="#d0112b"/>
<circle cx="280.35" cy="587.25" r="2.75" fill="#d0112b"/>
<circle cx="283.25" cy="581.84" r="2.75" fill="#d0112b"/>
<circle cx="283.25" cy="587.67" r="2.75" fill="#d0112b"/>
<rect x="293.80" y="596.84" width="11.60" height="74.16" fill="#9a7db2"/>
<circle cx="294.80" cy="596.42" r="2.75" fill="#5b2378"/>
<circle cx="299.60" cy="595.17" r="2.75" fill="#5b2378"/>
<circle cx="304.40" cy="591.00" r="2.75" fill="#5b2378"/>
<circle cx="304.40" cy="596.84" r="2.75" fill="#5b2378"/>
<rect x="314.60" y="605.50" width="11.90" height="65.50" fill="#b6dca2"/>
<line x1="320.55" y1="588.67" x2="320.55" y2="620.75" stroke="#231f20" stroke-width="1.1"/>
<line x1="318.25" y1="588.67" x2="322.85" y2="588.67" stroke="#231f20" stroke-width="1.1"/>
<line x1="318.25" y1="620.75" x2="322.85" y2="620.75" stroke="#231f20" stroke-width="1.1"/>
<circle cx="316.05" cy="594.34" r="2.75" fill="#3cb04a"/>
<circle cx="324.65" cy="593.09" r="2.75" fill="#3cb04a"/>
<circle cx="320.55" cy="604.34" r="2.75" fill="#3cb04a"/>
<circle cx="320.55" cy="627.25" r="2.75" fill="#3cb04a"/>
<line x1="156.20" y1="547.50" x2="223.00" y2="547.50" stroke="#231f20" stroke-width="1.2"/>
<text x="189.60" y="546.10" font-size="8.2" text-anchor="middle" fill="#231f20"><tspan font-style="italic">P</tspan> &lt; .0001</text>
<line x1="156.20" y1="559.50" x2="200.00" y2="559.50" stroke="#231f20" stroke-width="1.2"/>
<text x="178.10" y="558.00" font-size="8.2" text-anchor="middle" fill="#231f20"><tspan font-style="italic">P</tspan> = .001</text>
<line x1="156.20" y1="569.50" x2="187.50" y2="569.50" stroke="#231f20" stroke-width="1.2"/>
<text x="171.85" y="568.00" font-size="8.2" text-anchor="middle" fill="#231f20"><tspan font-style="italic">P</tspan> = .04</text>
<line x1="254.40" y1="547.30" x2="320.40" y2="547.30" stroke="#231f20" stroke-width="1.2"/>
<text x="287.40" y="545.90" font-size="8.2" text-anchor="middle" fill="#231f20"><tspan font-style="italic">P</tspan> = .02</text>
<text x="191.20" y="685.00" font-size="8.4" text-anchor="middle" fill="#32609f">CM dependent</text>
<text x="288.90" y="685.00" font-size="8.4" text-anchor="middle" fill="#c41f3d">CM independent</text>
<circle cx="341.2" cy="539.40" r="3" fill="#1f4e8a"/>
<text x="347.60" y="541.90" font-size="7.6" text-anchor="start" fill="#231f20">isotype ctl</text>
<circle cx="341.2" cy="551.30" r="3" fill="#d0112b"/>
<text x="347.60" y="553.80" font-size="7.6" text-anchor="start" fill="#231f20">anti-ccl2</text>
<circle cx="341.2" cy="563.20" r="3" fill="#5b2378"/>
<text x="347.60" y="565.70" font-size="7.6" text-anchor="start" fill="#231f20">isotype ctl +Venetoclax</text>
<circle cx="341.2" cy="575.10" r="3" fill="#3cb04a"/>
<text x="347.60" y="577.60" font-size="7.6" text-anchor="start" fill="#231f20">anti-CCL2 +Venetoclax</text>
<rect x="0.5" y="0.5" width="519" height="693" fill="none" stroke="#3c3c3c" stroke-width="1"/>
</svg>
</body></html>
